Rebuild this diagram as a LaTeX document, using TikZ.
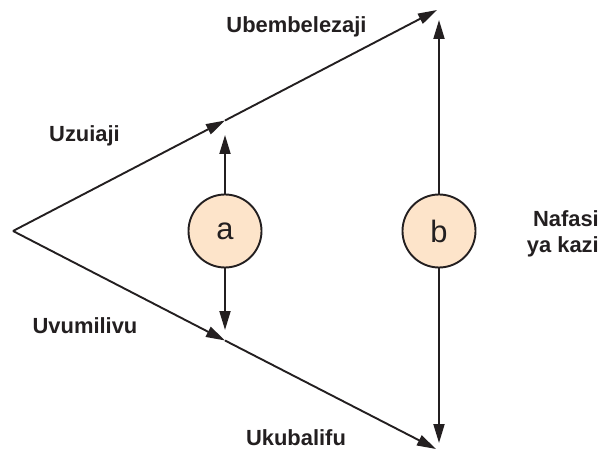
\documentclass[tikz,border=0pt]{standalone}
\usepackage{fontspec}
\setmainfont{Liberation Sans}
\usetikzlibrary{arrows.meta}
\definecolor{ink}{HTML}{231F20}
\definecolor{peach}{HTML}{FDE4CA}
\begin{document}
\begin{tikzpicture}[x=1bp,y=-1bp,
  conn/.style={draw=ink,line width=1.9bp,-{Triangle[length=19bp,width=11bp]}},
  circ/.style={circle,draw=ink,line width=1.9bp,fill=peach,minimum size=73bp,inner sep=0pt,
    font=\fontsize{31}{31}\selectfont,text=ink},
  lbl/.style={font=\fontsize{22}{26}\selectfont\bfseries,text=ink,inner sep=0pt}]
\useasboundingbox (0,0) rectangle (612,450);
% key points
\coordinate (apex) at (13,231);
\coordinate (mtop) at (225,120.5);
\coordinate (mbot) at (225,340.5);
\coordinate (etop) at (437,10);
\coordinate (ebot) at (436,449);
% circles
\node[circ] (a) at (225,231) {a};
\node[circ] (b) at (439,231) {b};
\coordinate (atip) at (225,135);
\coordinate (abot) at (225,330);
\coordinate (btip) at (439,20);
\coordinate (bbot) at (439,443);
% triangle sides
\draw[conn] (apex) -- (mtop);
\draw[conn] (mtop) -- (etop);
\draw[conn] (apex) -- (mbot);
\draw[conn] (mbot) -- (ebot);
% vertical arrows
\draw[conn] (a.north) -- (atip);
\draw[conn] (a.south) -- (abot);
\draw[conn] (b.north) -- (btip);
\draw[conn] (b.south) -- (bbot);
% labels
\node[lbl,anchor=base] (l1) at (296.5,33) {Ubembelezaji};
\node[lbl,anchor=base] (l2) at (84.5,141.5) {Uzuiaji};
\node[lbl,anchor=base] (l3) at (85,333) {Uvumilivu};
\node[lbl,anchor=base] (l4) at (296,445.5) {Ukubalifu};
\node[lbl,anchor=base east] (l5) at (599,227) {Nafasi};
\node[lbl,anchor=base east] (l6) at (599,253) {ya kazi};
\end{tikzpicture}
\end{document}
